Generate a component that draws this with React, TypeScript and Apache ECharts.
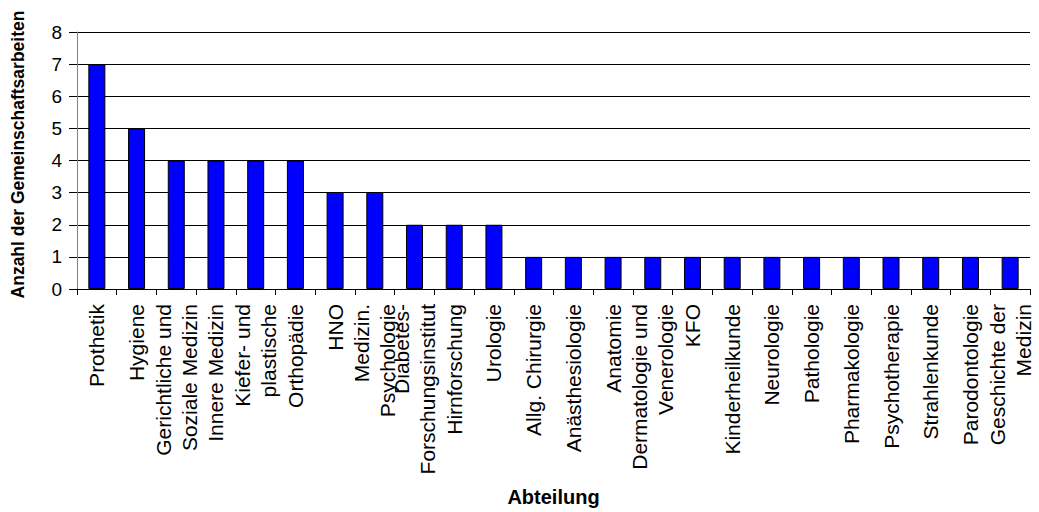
import React, { useEffect, useRef } from "react";
import * as echarts from "echarts";

// Departments (Abteilung) and number of joint works per department
const categories: string[] = [
  "Prothetik",
  "Hygiene",
  "Gerichtliche und\nSoziale Medizin",
  "Innere Medizin",
  "Kiefer- und\nplastische",
  "Orthopädie",
  "HNO",
  "Medizin.\nPsychologie",
  "Diabetes-\nForschungsinstitut",
  "Hirnforschung",
  "Urologie",
  "Allg. Chirurgie",
  "Anästhesiologie",
  "Anatomie",
  "Dermatologie und\nVenerologie",
  "KFO",
  "Kinderheilkunde",
  "Neurologie",
  "Pathologie",
  "Pharmakologie",
  "Psychotherapie",
  "Strahlenkunde",
  "Parodontologie",
  "Geschichte der\nMedizin",
];

const counts: number[] = [7, 5, 4, 4, 4, 4, 3, 3, 2, 2, 2, 1, 1, 1, 1, 1, 1, 1, 1, 1, 1, 1, 1, 1];

const yTicks: number[] = [0, 1, 2, 3, 4, 5, 6, 7, 8];

const FONT = "'Liberation Sans', Arial, Helvetica, sans-serif";

export default function App() {
  const ref = useRef<HTMLDivElement>(null);

  useEffect(() => {
    if (!ref.current) return;
    const chart = echarts.init(ref.current, undefined, { renderer: "svg" });
    chart.setOption({
      animation: false,
      backgroundColor: "#ffffff",
      grid: {
        left: 77,
        right: 9,
        top: 32,
        bottom: 223,
        containLabel: false,
        outerBoundsMode: "none",
      },
      xAxis: {
        type: "category",
        data: categories,
        name: "Abteilung",
        nameLocation: "middle",
        nameGap: 198,
        nameTextStyle: { fontFamily: FONT, fontSize: 20, fontWeight: "bold", color: "#000" },
        axisLine: { show: true, lineStyle: { color: "#000", width: 1 } },
        axisTick: { show: true, length: 6, lineStyle: { color: "#000" } },
        axisLabel: {
          interval: 0,
          rotate: 90,
          margin: 15,
          fontFamily: FONT,
          fontSize: 21,
          lineHeight: 26,
          color: "#000",
        },
      },
      yAxis: {
        type: "value",
        min: yTicks[0],
        max: yTicks[yTicks.length - 1],
        interval: 1,
        name: "Anzahl der Gemeinschaftsarbeiten",
        nameLocation: "middle",
        nameRotate: 90,
        nameGap: 50,
        nameTextStyle: {
          fontFamily: FONT,
          fontSize: 17.5,
          fontWeight: "bold",
          color: "#000",
          padding: [0, 0, 0, 12],
        },
        axisLine: { show: true, lineStyle: { color: "#808080", width: 1 } },
        axisTick: { show: true, length: 8, lineStyle: { color: "#000" } },
        axisLabel: { margin: 15, fontFamily: FONT, fontSize: 19, color: "#000" },
        splitLine: { show: true, lineStyle: { color: "#000", width: 1 } },
      },
      series: [
        {
          type: "bar",
          data: counts,
          barWidth: 17,
          itemStyle: { color: "#0000ff", borderColor: "#000", borderWidth: 1 },
        },
      ],
    });
    return () => chart.dispose();
  }, []);

  return (
    <div
      ref={ref}
      style={{ position: "absolute", left: 0, top: 0, width: 1039, height: 512 }}
    />
  );
}
